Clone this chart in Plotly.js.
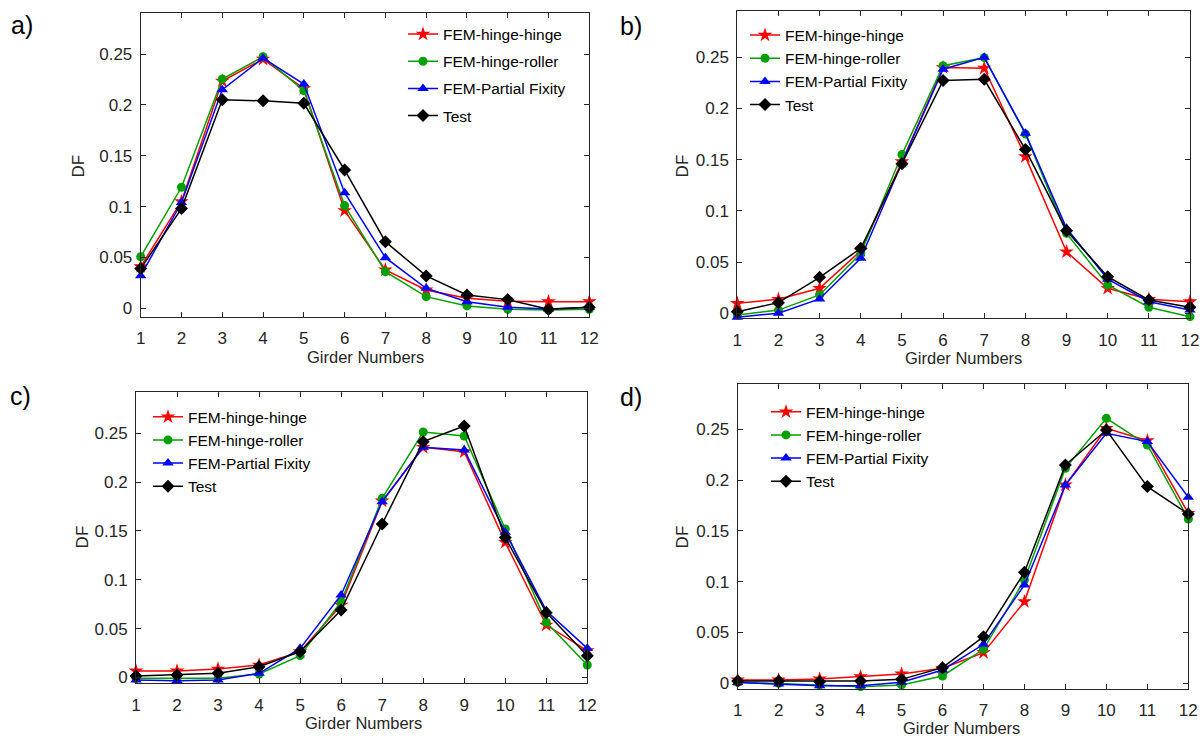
<!DOCTYPE html>
<html><head><meta charset="utf-8">
<script src="https://cdn.plot.ly/plotly-3.0.1.min.js"></script>
<style>html,body{margin:0;padding:0;background:#fff}#chart{width:1204px;height:738px}</style>
</head><body><div id="chart"></div>
<script>
// ---------- data ----------
const girders = [1,2,3,4,5,6,7,8,9,10,11,12];
const xTickText = ["1","2","3","4","5","6","7","8","9","10","11","12"];
const yTickVals = [0,0.05,0.1,0.15,0.2,0.25];
const yTickText = ["0","0.05","0.1","0.15","0.2","0.25"];
const seriesNames = ["FEM-hinge-hinge","FEM-hinge-roller","FEM-Partial Fixity","Test"];
const panelLabels = ["a)","b)","c)","d)"];
const xTitle = "Girder Numbers";
const yTitle = "DF";

// panel a
const aHingeHinge  = [0.041,0.105,0.2235,0.245,0.216,0.096,0.0377,0.018,0.0098,0.007,0.0065,0.0065];
const aHingeRoller = [0.0507,0.119,0.2255,0.2474,0.214,0.101,0.036,0.0114,0.0023,-0.001,-0.0017,-0.001];
const aPartial     = [0.032,0.104,0.215,0.246,0.2205,0.1137,0.0498,0.0197,0.0065,0.001,-0.0007,0.001];
const aTest        = [0.039,0.098,0.205,0.204,0.2016,0.136,0.0655,0.0318,0.013,0.0085,-0.001,0.001];
// panel b
const bHingeHinge  = [0.0097,0.0136,0.0243,0.061,0.148,0.240,0.2394,0.153,0.060,0.0243,0.0136,0.0112];
const bHingeRoller = [-0.0018,0.003,0.0178,0.0584,0.155,0.2418,0.2497,0.1752,0.078,0.0276,0.0058,-0.0034];
const bPartial     = [-0.004,0.0,0.0139,0.0536,0.147,0.2384,0.25,0.1759,0.083,0.0332,0.0112,0.0031];
const bTest        = [0.0015,0.0103,0.035,0.0634,0.146,0.2273,0.2286,0.160,0.0806,0.0357,0.0129,0.0058];
// panel c
const cHingeHinge  = [0.0065,0.0065,0.0085,0.0126,0.0263,0.0741,0.1807,0.2357,0.2312,0.1383,0.0536,0.0273];
const cHingeRoller = [-0.001,-0.001,-0.001,0.0034,0.0222,0.0775,0.1834,0.2514,0.2473,0.152,0.0564,0.0126];
const cPartial     = [-0.0027,-0.0034,-0.0027,0.0041,0.0297,0.0844,0.18,0.2357,0.2329,0.1486,0.0683,0.0297];
const cTest        = [0.0014,0.0024,0.0041,0.0109,0.0263,0.069,0.1571,0.2415,0.2575,0.1434,0.0663,0.0222];
// panel d
const dHingeHinge  = [0.0033,0.0033,0.0043,0.0066,0.0092,0.0148,0.0302,0.0804,0.1952,0.251,0.2388,0.1673];
const dHingeRoller = [0.001,0.0,-0.0016,-0.0033,-0.0016,0.0072,0.0335,0.1017,0.2116,0.2608,0.2346,0.1617];
const dPartial     = [0.0007,-0.0007,-0.0023,-0.0023,0.001,0.0131,0.0384,0.0968,0.1952,0.2461,0.2379,0.1831];
const dTest        = [0.0023,0.0023,0.0016,0.0023,0.0039,0.0154,0.0459,0.1093,0.2149,0.2493,0.1936,0.1667];

const panels = [
  [aHingeHinge,aHingeRoller,aPartial,aTest],
  [bHingeHinge,bHingeRoller,bPartial,bTest],
  [cHingeHinge,cHingeRoller,cPartial,cTest],
  [dHingeHinge,dHingeRoller,dPartial,dTest]
];

// ---------- styling / layout ----------
const W = 1204, H = 738;
const px = v => v / W;
const py = v => 1 - v / H;
const FONT = "Liberation Sans, Arial, Helvetica, sans-serif";
const AX = "#262626";

const colors = ["#ff0000","#00a000","#0000ff","#000000"];
const symbols = ["star","circle","triangle-up","diamond"];
const msizes = [11,9,10,10];

// plot boxes in pixels: [left, right, top, bottom]
const boxes = [
  [140.7, 589.3, 12.7, 316.7],
  [737.3, 1190.0, 11.3, 318.3],
  [136.0, 587.3, 391.7, 683.3],
  [737.7, 1188.3, 384.0, 689.0]
];
const yRanges = [[-0.0083,0.2907],[-0.005,0.295],[-0.0061,0.2927],[-0.0056,0.2946]];
const legendPos = [[403,17.5,4],[745,18.5,0],[148,400.2,0],[766,395.2,0]];
const labelPos = [[21.5,25],[631,26],[20.6,396],[631,397]];
const dfPos = [[78.8,165.7],[682.7,165.7],[82.7,536.7],[682.7,536.7]];
const xtPos = [[365,357],[963.7,358],[363.5,723],[961.5,728]];

const data = [];
const layout = {
  width: W, height: H,
  margin: {l:0,r:0,t:0,b:0},
  paper_bgcolor: "#fff", plot_bgcolor: "#fff",
  font: {family: FONT, color: AX},
  showlegend: true,
  annotations: []
};

panels.forEach((series, p) => {
  const n = p === 0 ? "" : String(p+1);
  const legName = "legend" + n;
  series.forEach((ys, s) => {
    data.push({
      type: "scatter", mode: "lines+markers",
      x: girders, y: ys, name: seriesNames[s],
      xaxis: "x" + n, yaxis: "y" + n,
      legend: legName,
      legendgroup: "g" + p + "_" + s,
      cliponaxis: false,
      line: {color: colors[s], width: 1.5},
      marker: {symbol: symbols[s], size: msizes[s], color: colors[s], line: {width: 0}}
    });
  });
  const b = boxes[p];
  const axCommon = {
    showline: true, linecolor: AX, linewidth: 1, mirror: "ticks",
    ticks: "inside", ticklen: 5, tickwidth: 1, tickcolor: AX,
    showgrid: false, zeroline: false, fixedrange: true,
    tickfont: {family: FONT, size: 17, color: AX}
  };
  layout["xaxis" + n] = Object.assign({}, axCommon, {
    domain: [px(b[0]), px(b[1])],
    anchor: "y" + n,
    range: [1, 12],
    tickmode: "array", tickvals: girders, ticktext: xTickText,
    ticklabelstandoff: 6
  });
  layout["yaxis" + n] = Object.assign({}, axCommon, {
    domain: [py(b[3]), py(b[2])],
    anchor: "x" + n,
    range: yRanges[p],
    tickmode: "array", tickvals: yTickVals, ticktext: yTickText,
    ticklabelstandoff: 4
  });
  const lp = legendPos[p];
  layout[legName] = {
    x: px(lp[0]), y: py(lp[1]), xanchor: "left", yanchor: "top",
    bgcolor: "rgba(0,0,0,0)", borderwidth: 0,
    font: {family: FONT, size: 15.5, color: "#000"},
    tracegroupgap: lp[2], traceorder: "grouped"
  };
  layout.annotations.push({
    xref: "paper", yref: "paper", x: px(labelPos[p][0]), y: py(labelPos[p][1]),
    xanchor: "center", yanchor: "middle", showarrow: false,
    text: panelLabels[p], font: {family: FONT, size: 25, color: "#000"}
  });
  layout.annotations.push({
    xref: "paper", yref: "paper", x: px(dfPos[p][0]), y: py(dfPos[p][1]),
    xanchor: "center", yanchor: "middle", showarrow: false, textangle: -90,
    text: yTitle, font: {family: FONT, size: 17, color: AX}
  });
  layout.annotations.push({
    xref: "paper", yref: "paper", x: px(xtPos[p][0]), y: py(xtPos[p][1]),
    xanchor: "center", yanchor: "middle", showarrow: false,
    text: xTitle, font: {family: FONT, size: 16.5, color: AX}
  });
});

Plotly.newPlot("chart", data, layout, {staticPlot: true, displayModeBar: false});
</script>
</body></html>
